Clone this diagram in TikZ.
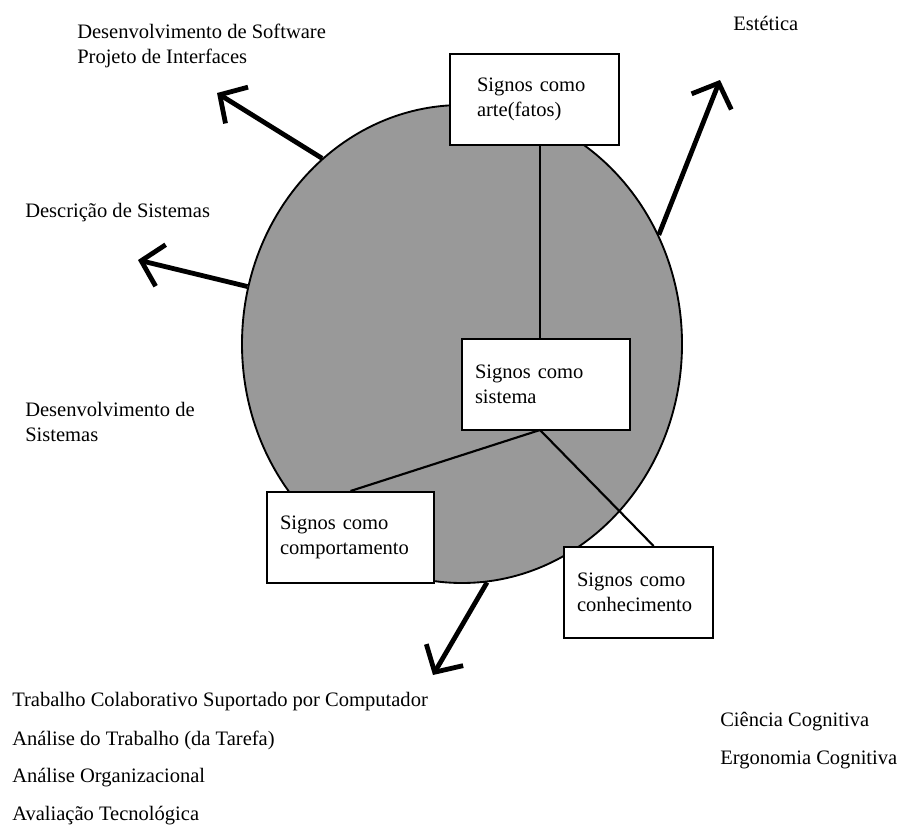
\documentclass[tikz,border=0pt]{standalone}
\usepackage{fontspec}
\setmainfont{Liberation Serif}
\usetikzlibrary{shapes.geometric,arrows.meta,calc}

\begin{document}
\begin{tikzpicture}[x=0.75pt,y=-0.75pt,
  txt/.style={inner sep=0pt, align=left, font=\fontsize{15.4}{18.75}\selectfont},
  signbox/.style={draw, fill=white, line width=1.5pt, minimum height=68.25pt,
    inner ysep=0pt, align=left, font=\fontsize{15.4}{18.75}\selectfont},
  link/.style={line width=1.6pt},
  field/.style={line width=3.6pt, -{Straight Barb[length=15pt,width=32pt]}}]

\useasboundingbox (0,0) rectangle (899,828);

% shaded disc
\node[ellipse, draw, line width=1.4pt, fill=black!40,
      minimum width=330pt, minimum height=358.5pt, inner sep=0pt] (disc) at (462,344) {};

% arrows leaving the disc
\coordinate (tipA) at (217,93);
\coordinate (tipB) at (138,260);
\coordinate (tipC) at (720,80);
\coordinate (tipD) at (433,675);
\draw[field] (disc.127) -- (tipA);
\draw[field] (disc.165.4) -- (tipB);
\draw[field] (disc.29.6) -- (tipC);
\draw[field] (disc.276.2) -- (tipD);

% sign boxes
\node[signbox, text width=86.25pt, inner xsep=20.25pt] (arte) at (534.5,99.5) {Signos como\\arte(fatos)};
\node[signbox, text width=106.5pt, inner xsep=9.75pt] (sistema) at (546,384.5) {Signos como\\sistema};
\node[signbox, text width=105.75pt, inner xsep=9.75pt] (comp) at (350.5,537.5) {Signos como\\comportamento};
\node[signbox, text width=92.25pt, inner xsep=9.75pt] (conh) at (638.5,592.5) {Signos como\\conhecimento};

% links between the boxes
\coordinate (hub) at (540,430);
\draw[link] (arte.south -| hub) -- (sistema.north -| hub);
\draw[link] (hub) -- (comp.north);
\draw[link] (hub) -- ($(conh.north west)!0.6!(conh.north east)$);

% outer labels
\node[txt, anchor=west] (soft) at (77,45.5) {Desenvolvimento de Software\\Projeto de Interfaces};
\node[txt, anchor=west] (descr) at (25,213) {Descrição de Sistemas};
\node[txt, anchor=west] (devsys) at (25,421.5) {Desenvolvimento de\\Sistemas};
\node[txt, anchor=west] (estet) at (733,23) {Estética};

\node[txt, anchor=west] (cscw) at (12,702) {Trabalho Colaborativo Suportado por Computador};
\node[txt, anchor=west] (task) at (12,740) {Análise do Trabalho (da Tarefa)};
\node[txt, anchor=west] (org) at (12,778) {Análise Organizacional};
\node[txt, anchor=west] (tech) at (12,816) {Avaliação Tecnológica};

\node[txt, anchor=west] (cogsci) at (720,722) {Ciência Cognitiva};
\node[txt, anchor=west] (ergo) at (720,760) {Ergonomia Cognitiva};

\end{tikzpicture}
\end{document}
